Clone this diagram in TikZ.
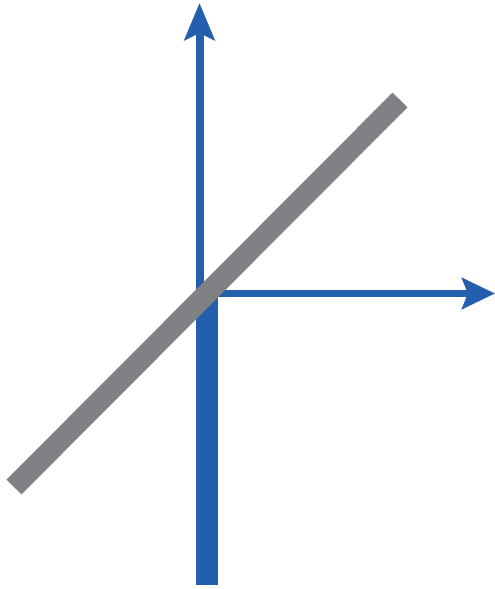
\documentclass[tikz,border=0pt]{standalone}
\usetikzlibrary{arrows.meta}
\definecolor{azulEje}{HTML}{245FAD}
\definecolor{grisRecta}{HTML}{808184}

\begin{document}
\begin{tikzpicture}[x=1pt,y=-1pt,line cap=butt]
  \useasboundingbox (0,0) rectangle (495,589);
  \coordinate (O) at (199.5,293.5);
  \coordinate (ytop) at (199.5,3);
  \coordinate (xend) at (495,293.5);
  \coordinate (barTop) at (207,293.5);
  \coordinate (barBot) at (207,585);
  \coordinate (recA) at (14,487);
  \coordinate (recB) at (400,100);
  % ejes
  \draw[azulEje,line width=8pt,-{Stealth[length=37pt,width=30pt,inset=7pt]}]
    (O) -- (ytop);
  \draw[azulEje,line width=7pt,-{Stealth[length=33pt,width=31pt,inset=6pt]}]
    (O) -- (xend);
  \draw[azulEje,line width=22pt] (barTop) -- (barBot);
  % recta
  \draw[grisRecta,line width=21pt] (recA) -- (recB);
\end{tikzpicture}
\end{document}
